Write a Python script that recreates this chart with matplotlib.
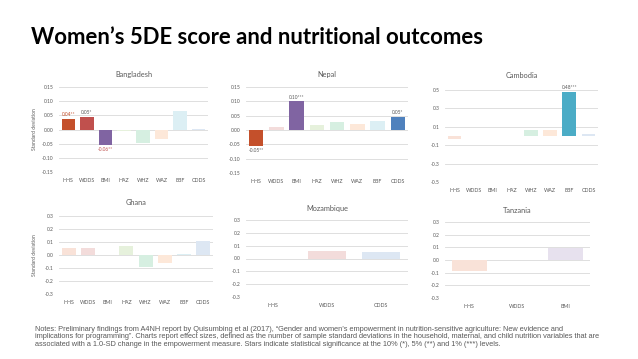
import matplotlib
matplotlib.use("Agg")
import matplotlib.pyplot as plt

# ---------------- data ----------------
cats_full = ["HHS", "WDDS", "BMI", "HAZ", "WHZ", "WAZ", "EBF", "CDDS"]
cats_moz = ["HHS", "WDDS", "CDDS"]
cats_tza = ["HHS", "WDDS", "BMI"]

bangladesh = [0.037, 0.045, -0.055, -0.005, -0.048, -0.034, 0.064, 0.002]
bangladesh_lbl = ["0.04**", "0.05*", "-0.06**", "", "", "", "", ""]
nepal = [-0.057, 0.009, 0.100, 0.016, 0.029, 0.022, 0.033, 0.045]
nepal_lbl = ["-0.05**", "", "0.10***", "", "", "", "", "0.05*"]
cambodia = [-0.03, 0.0, 0.0, 0.005, 0.07, 0.065, 0.48, 0.02]
cambodia_lbl = ["", "", "", "", "", "", "0.48***", ""]
ghana = [0.054, 0.057, 0.0, 0.07, -0.09, -0.06, 0.005, 0.105]
ghana_lbl = [""] * 8
mozambique = [0.0, 0.057, 0.047]
mozambique_lbl = [""] * 3
tanzania = [-0.084, 0.003, 0.095]
tanzania_lbl = [""] * 3

yt_small = [-0.15, -0.10, -0.05, 0.0, 0.05, 0.10, 0.15]
yt_camb = [-0.5, -0.3, -0.1, 0.1, 0.3, 0.5]
yt_03 = [-0.3, -0.2, -0.1, 0.0, 0.1, 0.2, 0.3]

title = "Women\u2019s 5DE score and nutritional outcomes"
notes = ("Notes: Preliminary findings from A4NH report by Quisumbing et al (2017), \u201cGender and women\u2019s empowerment in nutrition-sensitive agriculture: New evidence and\n"
         "implications for programming\u201d. Charts report effect sizes, defined as the number of sample standard deviations in the household, maternal, and child nutrition variables that are\n"
         "associated with a 1.0-SD change in the empowerment measure. Stars indicate statistical significance at the 10% (*), 5% (**) and 1% (***) levels.")

# ---------------- style ----------------
strong = {"HHS": "#C4502B", "WDDS": "#C0504D", "BMI": "#8064A2", "HAZ": "#9BBB59",
          "WHZ": "#4BACC6", "WAZ": "#F79646", "EBF": "#4BACC6", "CDDS": "#4F81BD"}
pale = {"HHS": "#F9E2D8", "WDDS": "#F3DCDB", "BMI": "#E7E1EE", "HAZ": "#E6F1DC",
        "WHZ": "#D6EFE1", "WAZ": "#FDE8D9", "EBF": "#DCEFF4", "CDDS": "#DDE7F3"}
lblcol_bgd = {"HHS": "#C4502B", "BMI": "#C0504D"}

W, H = 638, 359
fig = plt.figure(figsize=(W / 100, H / 100), dpi=100)
FONT = "Lato"
grey = "#595959"


def px_axes(x0, x1, ytop, ybot):
    return fig.add_axes([x0 / W, 1 - ybot / H, (x1 - x0) / W, (ybot - ytop) / H])


def panel(box, name, cats, vals, lbls, yticks, fmt, title_y, ylabel=False, lblcol=None):
    lblcol = lblcol or {}
    ax = px_axes(*box)
    colors = [strong[c] if l else pale[c] for c, l in zip(cats, lbls)]
    xs = range(len(cats))
    ax.bar(xs, vals, width=0.72, color=colors, zorder=2)
    ax.set_ylim(yticks[0], yticks[-1])
    ax.set_xlim(-0.5, len(cats) - 0.5)
    ax.set_yticks(yticks)
    ax.set_yticklabels([fmt.format(t) for t in yticks], fontsize=3.6, color=grey, family=FONT)
    ax.set_xticks(list(xs))
    ax.set_xticklabels(cats, fontsize=3.8, color=grey, family=FONT)
    ax.tick_params(length=0, pad=4)
    ax.grid(axis="y", color="#D9D9D9", linewidth=0.6, zorder=0)
    for s in ax.spines.values():
        s.set_visible(False)
    yr = yticks[-1] - yticks[0]
    for x, v, l, c in zip(xs, vals, lbls, cats):
        if l:
            off = 0.02 * yr
            ax.text(x, v + off if v >= 0 else v - off, l, ha="center",
                    va="bottom" if v >= 0 else "top", fontsize=3.4,
                    color=lblcol.get(c, grey), family=FONT)
    x0, x1 = box[0], box[1]
    fig.text((x0 + x1) / 2 / W, 1 - title_y / H, name, ha="center", va="center",
             fontsize=5.3, color=grey, family=FONT)
    if ylabel:
        fig.text(35 / W, 1 - (box[2] + box[3]) / 2 / H, "Standard deviation", rotation=90,
                 ha="center", va="center", fontsize=3.6, color=grey, family=FONT)
    return ax


panel((59, 208, 87, 172), "Bangladesh", cats_full, bangladesh, bangladesh_lbl, yt_small, "{:.2f}", 75, True, lblcol_bgd)
panel((246, 408, 87, 173), "Nepal", cats_full, nepal, nepal_lbl, yt_small, "{:.2f}", 75)
panel((445, 598, 90, 182), "Cambodia", cats_full, cambodia, cambodia_lbl, yt_camb, "{:.1f}", 75)
panel((59, 213, 216, 294), "Ghana", cats_full, ghana, ghana_lbl, yt_03, "{:.1f}", 202, True)
panel((246, 408, 220, 297), "Mozambique", cats_moz, mozambique, mozambique_lbl, yt_03, "{:.1f}", 208)
panel((445, 590, 222, 298), "Tanzania", cats_tza, tanzania, tanzania_lbl, yt_03, "{:.1f}", 210)

fig.text(257 / W, 1 - 38 / H, title, ha="center", va="center", fontsize=15.9,
         fontweight="bold", family=FONT, color="black")
fig.text(35 / W, 1 - 337 / H, notes, ha="left", va="center", fontsize=5.3,
         family="Liberation Sans", color=grey, linespacing=1.12)

fig.savefig("out.png", dpi=100, facecolor="white")
